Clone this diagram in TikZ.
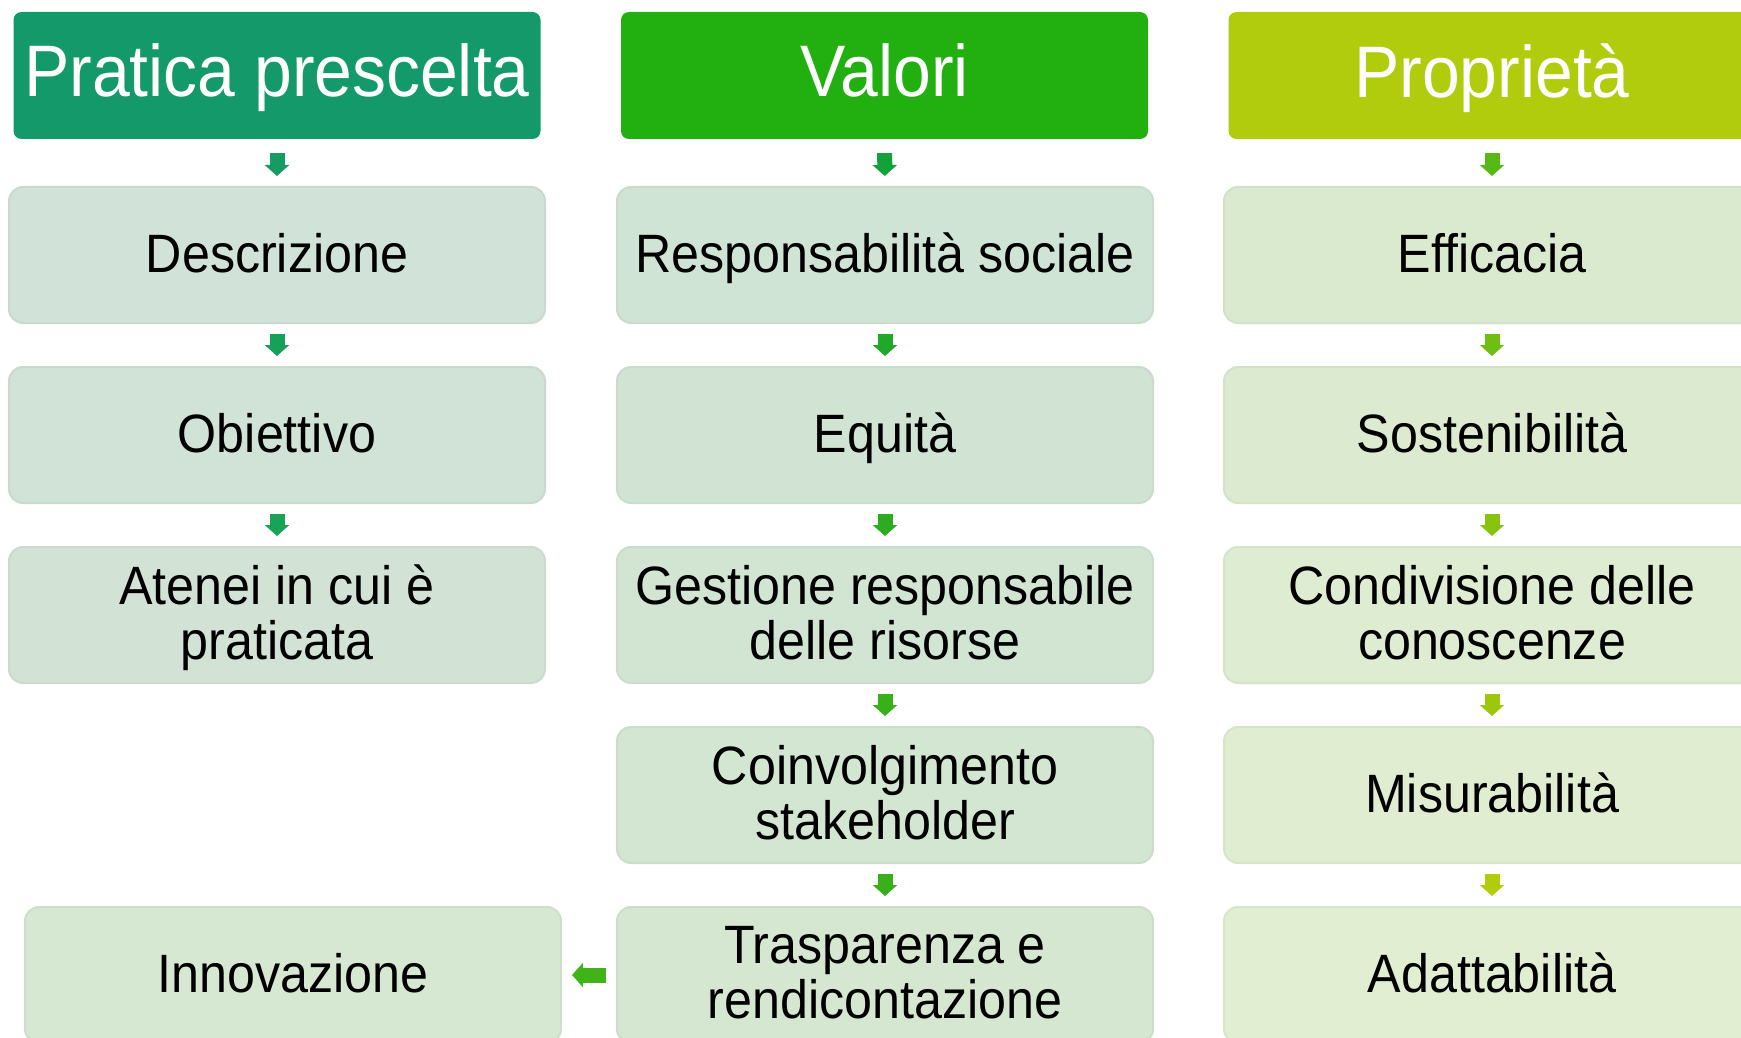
\documentclass[tikz,border=0pt]{standalone}
\usepackage{fontspec}
\setmainfont{Liberation Sans}[FakeStretch=0.93]
\usetikzlibrary{arrows.meta}

\definecolor{hdA}{HTML}{13996A}
\definecolor{hdB}{HTML}{22B011}
\definecolor{hdC}{HTML}{B0CC0C}

\definecolor{bxA1}{HTML}{D1E2D8}
\definecolor{bxA2}{HTML}{D1E2D7}
\definecolor{bxA3}{HTML}{D2E3D6}
\definecolor{bxA4}{HTML}{D6E8D1}
\definecolor{bxB1}{HTML}{D0E4D5}
\definecolor{bxB2}{HTML}{D1E4D3}
\definecolor{bxB3}{HTML}{D2E5D2}
\definecolor{bxB4}{HTML}{D3E6D1}
\definecolor{bxB5}{HTML}{D5E7D0}
\definecolor{bxC1}{HTML}{DAEACF}
\definecolor{bxC2}{HTML}{DCEBD0}
\definecolor{bxC3}{HTML}{DEECD1}
\definecolor{bxC4}{HTML}{E0EDD1}
\definecolor{bxC5}{HTML}{E2EED2}

\definecolor{arA1}{HTML}{149C62}
\definecolor{arA2}{HTML}{17A05A}
\definecolor{arA3}{HTML}{18A356}
\definecolor{arB1}{HTML}{12A23A}
\definecolor{arB2}{HTML}{1FA82A}
\definecolor{arB3}{HTML}{2CAC20}
\definecolor{arB4}{HTML}{38B019}
\definecolor{arL}{HTML}{40B416}
\definecolor{arC1}{HTML}{58B816}
\definecolor{arC2}{HTML}{70BE12}
\definecolor{arC3}{HTML}{88C30F}
\definecolor{arC4}{HTML}{9CC70D}

\begin{document}
\begin{tikzpicture}[x=1pt,y=-1pt,inner sep=0pt,
  head/.style={rounded corners=8pt, minimum width=527pt, minimum height=127pt,
    text=white, text depth=10pt, font=\fontsize{73}{75}\selectfont},
  box/.style={rounded corners=14pt, minimum width=536pt, minimum height=136pt,
    fill=#1, draw=#1!96!black, line width=2pt, align=center, text depth=5pt,
    font=\fontsize{54}{55}\selectfont},
  blk/.style={line width=15pt, -{Triangle[width=24pt,length=11pt]},
    shorten <=10pt, shorten >=10pt}]

\useasboundingbox (0,0) rectangle (1741,1038);

\node(h1)[head, fill=hdA] at (277,75.5) {Pratica prescelta};
\node(h2)[head, fill=hdB] at (884.5,75.5) {Valori};
\node(h3)[head, fill=hdC] at (1492,75.5) {Proprietà};

\node(a1)[box=bxA1] at (277,255) {Descrizione};
\node(a2)[box=bxA2] at (277,435) {Obiettivo};
\node(a3)[box=bxA3] at (277,615) {Atenei in cui è\\praticata};
\node(a4)[box=bxA4] at (293,975) {Innovazione};
\draw[blk, arA1, shorten <=14pt] (h1) -- (a1);
\draw[blk, arA2] (a1) -- (a2);
\draw[blk, arA3] (a2) -- (a3);

\node(b1)[box=bxB1] at (885,255) {Responsabilità sociale};
\node(b2)[box=bxB2] at (885,435) {Equità};
\node(b3)[box=bxB3] at (885,615) {Gestione responsabile\\delle risorse};
\node(b4)[box=bxB4] at (885,795) {Coinvolgimento\\stakeholder};
\node(b5)[box=bxB5] at (885,975) {Trasparenza e\\rendicontazione};
\draw[blk, arB1, shorten <=14pt] (h2) -- (b1);
\draw[blk, arB2] (b1) -- (b2);
\draw[blk, arB3] (b2) -- (b3);
\draw[blk, arB4] (b3) -- (b4);
\draw[blk, arB4] (b4) -- (b5);
\draw[blk, arL] (b5) -- (a4);

\node(c1)[box=bxC1] at (1492,255) {Efficacia};
\node(c2)[box=bxC2] at (1492,435) {Sostenibilità};
\node(c3)[box=bxC3] at (1492,615) {Condivisione delle\\conoscenze};
\node(c4)[box=bxC4] at (1492,795) {Misurabilità};
\node(c5)[box=bxC5] at (1492,975) {Adattabilità};
\draw[blk, arC1, shorten <=14pt] (h3) -- (c1);
\draw[blk, arC2] (c1) -- (c2);
\draw[blk, arC3] (c2) -- (c3);
\draw[blk, arC4] (c3) -- (c4);
\draw[blk, hdC] (c4) -- (c5);

\end{tikzpicture}
\end{document}
